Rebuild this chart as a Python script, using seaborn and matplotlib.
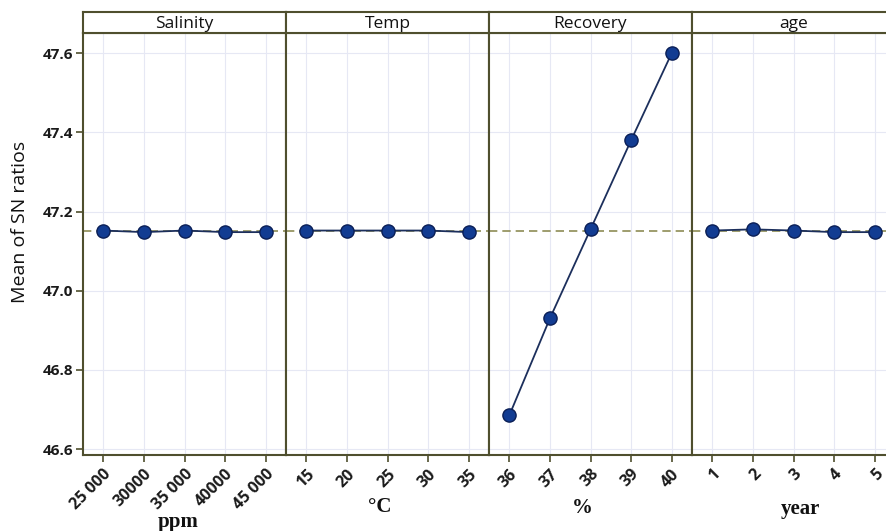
import matplotlib
matplotlib.use("Agg")
import matplotlib.pyplot as plt
import seaborn as sns
import pandas as pd
import numpy as np

# Main effects of SN ratios for each factor
factors = ["Salinity", "Temp", "Recovery", "age"]
units = ["ppm", "\u00b0C", "%", "year"]
salinity_levels = ["25 000", "30000", "35 000", "40000", "45 000"]
temp_levels = ["15", "20", "25", "30", "35"]
recovery_levels = ["36", "37", "38", "39", "40"]
age_levels = ["1", "2", "3", "4", "5"]
salinity_sn = [47.152, 47.148, 47.152, 47.148, 47.148]
temp_sn = [47.152, 47.152, 47.152, 47.152, 47.148]
recovery_sn = [46.685, 46.930, 47.155, 47.380, 47.600]
age_sn = [47.152, 47.155, 47.152, 47.148, 47.148]
grand_mean = 47.152
y_ticks = [46.6, 46.8, 47.0, 47.2, 47.4, 47.6]

levels = [salinity_levels, temp_levels, recovery_levels, age_levels]
values = [salinity_sn, temp_sn, recovery_sn, age_sn]

rows = []
for f, lv, vals in zip(factors, levels, values):
    for i, (l, v) in enumerate(zip(lv, vals)):
        rows.append({"factor": f, "pos": i, "level": l, "sn": v})
df = pd.DataFrame(rows)

sns.set_theme(style="white")
plt.rcParams["font.family"] = ["Open Sans", "DejaVu Sans"]

W, H = 886, 531
fig = plt.figure(figsize=(W / 100, H / 100), dpi=100)

frame = "#4f4f2e"
left_px, panel_w, top_px, bottom_px, strip_top = 83, 203, 33, 455, 12

ymin, ymax = 46.585, 47.651
for k, f in enumerate(factors):
    x0 = (left_px + k * panel_w) / W
    ax = fig.add_axes([x0, 1 - bottom_px / H, panel_w / W, (bottom_px - top_px) / H])
    sub = df[df["factor"] == f]
    ax.set_xlim(-0.5, 4.5)
    ax.set_ylim(ymin, ymax)
    ax.set_xticks(range(5))
    ax.set_yticks(y_ticks)
    ax.grid(True, color="#e6e8f4", lw=0.8)
    ax.set_axisbelow(True)
    ax.axhline(grand_mean, color="#8e8c55", lw=1.2, ls=(0, (5, 3)), zorder=1)
    sns.lineplot(data=sub, x="pos", y="sn", ax=ax, color="#1c2f5c", lw=1.3,
                 marker="o", markersize=9.5, markerfacecolor="#123c92",
                 markeredgecolor="#0b1f56", markeredgewidth=1.0, zorder=3)
    ax.set_xlabel("")
    ax.set_ylabel("")
    ax.set_xticklabels(sub["level"].tolist(), rotation=45, ha="right",
                       rotation_mode="anchor", fontsize=11.5, fontweight="bold",
                       color="#1a1a1a")
    ax.tick_params(axis="x", direction="out", length=5, width=1.2, color=frame,
                   bottom=True, pad=3)
    if k == 0:
        ax.set_yticklabels([f"{t:.1f}" for t in y_ticks], fontsize=11,
                           fontweight="bold", color="#1a1a1a")
        ax.tick_params(axis="y", direction="out", length=5, width=1.2,
                       color=frame, left=True, pad=2)
    else:
        ax.tick_params(axis="y", left=False, labelleft=False)
    for s in ax.spines.values():
        s.set_color(frame)
        s.set_linewidth(1.5)

    # factor header strip
    sax = fig.add_axes([x0, 1 - top_px / H, panel_w / W, (top_px - strip_top) / H])
    sax.set_xticks([])
    sax.set_yticks([])
    for s in sax.spines.values():
        s.set_color(frame)
        s.set_linewidth(1.5)
    sax.text(0.5, 0.45, f, ha="center", va="center", fontsize=12.5,
             color="#111111", transform=sax.transAxes)

# unit labels below each panel
unit_pos = [(178, 522), (380, 507), (582, 508), (800, 509)]
for u, (ux, uy) in zip(units, unit_pos):
    fig.text(ux / W, 1 - uy / H, u, ha="center", va="center",
             family="Liberation Serif", fontweight="bold", fontsize=15,
             color="#111111")

fig.text(20 / W, 1 - 222 / H, "Mean of SN ratios", rotation=90, ha="center",
         va="center", fontsize=14, color="#111111")

fig.savefig("out.png", dpi=100)
